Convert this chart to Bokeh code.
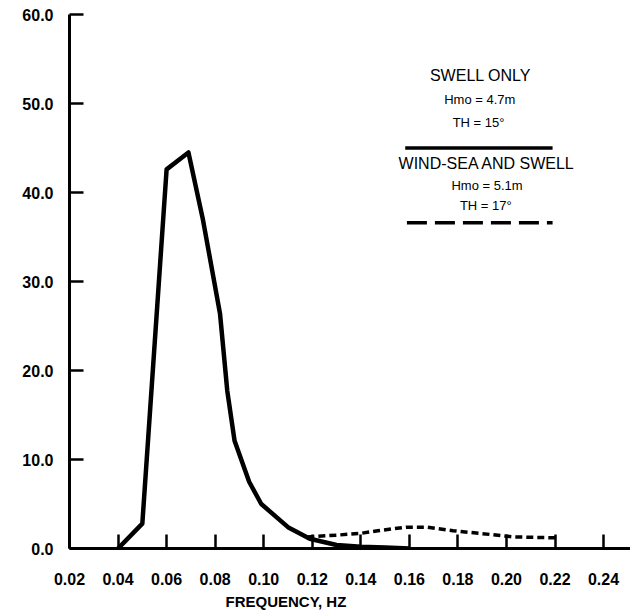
from bokeh.plotting import figure
from bokeh.models import Label, FixedTicker, Range1d, Title
from bokeh.embed import file_html
from bokeh.resources import INLINE

# Data
swell_freq = [0.040, 0.050, 0.060, 0.069, 0.075, 0.082, 0.085, 0.088, 0.094, 0.099, 0.110, 0.119, 0.130, 0.140, 0.150, 0.160]
swell_val = [0.0, 2.8, 42.6, 44.5, 36.9, 26.4, 17.7, 12.1, 7.5, 5.0, 2.4, 1.1, 0.4, 0.2, 0.1, 0.0]

windsea_freq = [0.118, 0.130, 0.140, 0.147, 0.159, 0.167, 0.178, 0.189, 0.203, 0.221]
windsea_val = [1.3, 1.5, 1.7, 2.0, 2.4, 2.4, 2.0, 1.7, 1.3, 1.2]

x_ticks = [0.02, 0.04, 0.06, 0.08, 0.10, 0.12, 0.14, 0.16, 0.18, 0.20, 0.22, 0.24]
y_ticks = [0, 10, 20, 30, 40, 50, 60]

FONT = "Liberation Sans"

p = figure(width=630, height=616, output_backend="svg", toolbar_location=None,
           x_range=Range1d(0.02, 0.2511), y_range=Range1d(0, 60),
           min_border_left=69, min_border_right=0, min_border_top=14, min_border_bottom=68)
p.outline_line_color = None
p.xgrid.visible = False
p.ygrid.visible = False
p.background_fill_color = "white"
p.border_fill_color = "white"

for ax in (p.xaxis[0], p.yaxis[0]):
    ax.axis_line_width = 3
    ax.axis_line_color = "black"
    ax.major_tick_line_width = 2.5
    ax.major_tick_line_color = "black"
    ax.major_tick_out = 0
    ax.major_tick_in = 14
    ax.minor_tick_line_color = None
    ax.major_label_text_font = FONT
    ax.major_label_text_font_style = "bold"
    ax.major_label_text_font_size = "16px"
    ax.major_label_text_color = "black"

p.xaxis[0].ticker = FixedTicker(ticks=x_ticks)
p.xaxis[0].major_label_overrides = {t: f"{t:.2f}" for t in x_ticks}
p.xaxis[0].major_label_standoff = 24
p.yaxis[0].ticker = FixedTicker(ticks=y_ticks)
p.yaxis[0].major_label_standoff = 16
p.yaxis[0].major_label_overrides = {t: f"{t:.1f}" for t in y_ticks}

p.line(swell_freq, swell_val, line_color="black", line_width=4.5, line_join="round")
p.line(windsea_freq, windsea_val, line_color="black", line_width=3.5, line_dash="7 4")

# x axis title, placed left of centre as in the reference
p.add_layout(Title(text="FREQUENCY, HZ", align="left", offset=156, standoff=6,
                   text_font=FONT, text_font_style="bold", text_font_size="15px",
                   text_color="black"), "below")

# Legend block
def lab(x, y, t, size):
    p.add_layout(Label(x=x, y=y, text=t, text_align="center", text_baseline="middle",
                       text_font=FONT, text_font_style="normal", text_font_size=size, text_color="black"))

lab(0.1893, 53.1, "SWELL ONLY", "16px")
lab(0.1890, 50.4, "Hmo = 4.7m", "13px")
lab(0.1885, 47.9, "TH = 15°", "13px")
p.segment(x0=[0.1583], y0=[45.0], x1=[0.2190], y1=[45.0], line_color="black", line_width=3.5)
lab(0.1920, 43.3, "WIND-SEA AND SWELL", "16px")
lab(0.1920, 40.8, "Hmo = 5.1m", "13px")
lab(0.1915, 38.5, "TH = 17°", "13px")
p.segment(x0=[0.1590], y0=[36.6], x1=[0.2190], y1=[36.6], line_color="black", line_width=3.5, line_dash="20 8")

open("out.html", "w").write(file_html(p, INLINE))
